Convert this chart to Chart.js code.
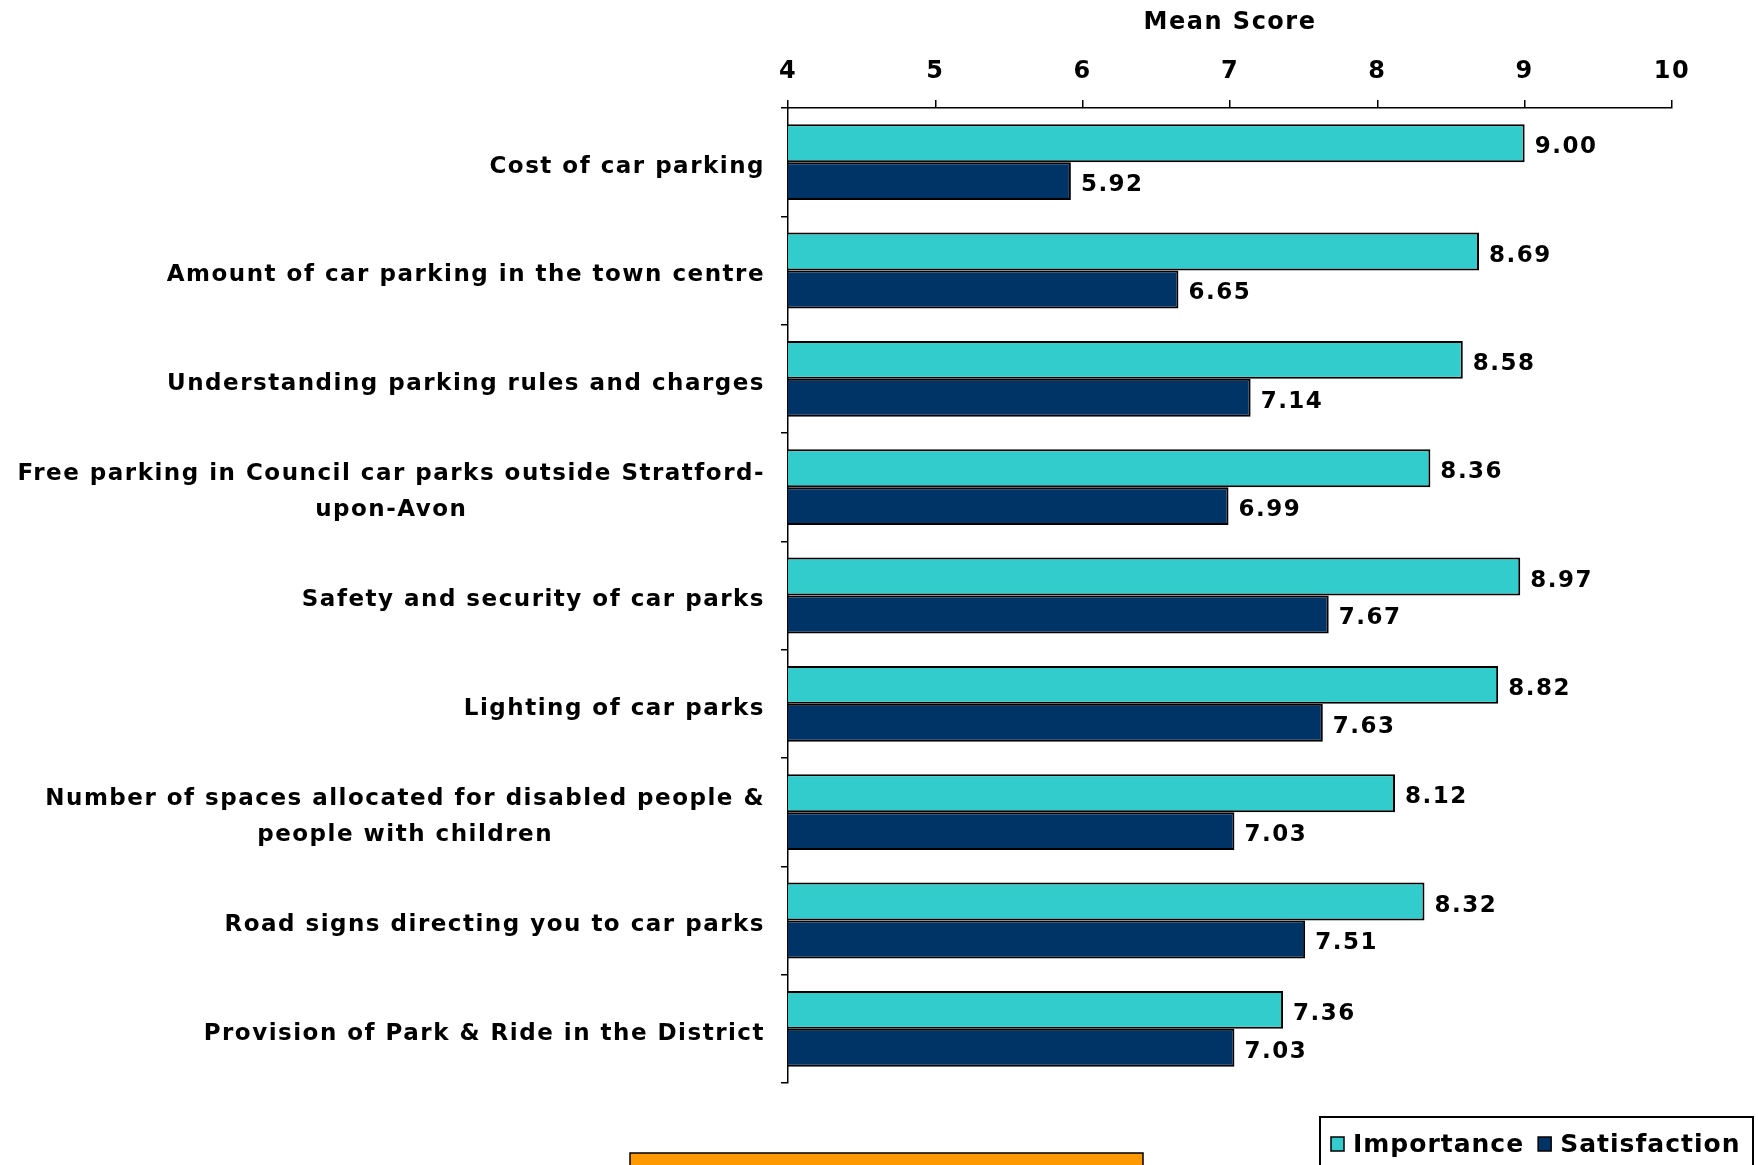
<!DOCTYPE html>
<html>
<head>
<meta charset="utf-8">
<script src="https://cdn.jsdelivr.net/npm/chart.js@4.4.1/dist/chart.umd.min.js"></script>
<style>
  html, body { margin:0; padding:0; background:#fff; }
  #wrap { width:1758px; height:1165px; }
</style>
</head>
<body>
<div id="wrap"><canvas id="meanChart" width="1758" height="1165"></canvas></div>
<script>
(function(){
  // categories, top to bottom
  const categories = [
    'Cost of car parking',
    'Amount of car parking in the town centre',
    'Understanding parking rules and charges',
    ['Free parking in Council car parks outside Stratford-', 'upon-Avon'],
    'Safety and security of car parks',
    'Lighting of car parks',
    ['Number of spaces allocated for disabled people &', 'people with children'],
    'Road signs directing you to car parks',
    'Provision of Park & Ride in the District'
  ];
  const importance   = [9.00, 8.69, 8.58, 8.36, 8.97, 8.82, 8.12, 8.32, 7.36];
  const satisfaction = [5.92, 6.65, 7.14, 6.99, 7.67, 7.63, 7.03, 7.51, 7.03];
  const xTicks = [4, 5, 6, 7, 8, 9, 10];

  const FONT = 'DejaVu Sans';
  const INK = '#000';
  const SPACING = '1.5px';

  // wider text like the original, canvas state is reset on resize so set it each draw
  const spacing = {
    id: 'spacing',
    beforeDraw(chart){ chart.ctx.letterSpacing = SPACING; }
  };

  // y labels: block right aligned, lines centred inside the block
  const yLabels = {
    id: 'yLabels',
    afterDraw(chart){
      const ctx = chart.ctx, s = chart.scales.y;
      ctx.save();
      ctx.letterSpacing = SPACING;
      ctx.font = 'bold 23px ' + FONT;
      ctx.fillStyle = INK;
      ctx.textAlign = 'center';
      ctx.textBaseline = 'middle';
      categories.forEach((c, i) => {
        const lines = [].concat(c);
        const w = Math.max(...lines.map(l => ctx.measureText(l).width));
        const cx = s.right - 23 - w / 2;
        const cy = s.getPixelForTick(i) + 5;
        lines.forEach((l, j) => ctx.fillText(l, cx, cy + (j - (lines.length - 1) / 2) * 36));
      });
      ctx.restore();
    }
  };

  const valueLabels = {
    id: 'valueLabels',
    afterDatasetsDraw(chart){
      const ctx = chart.ctx;
      ctx.save();
      ctx.letterSpacing = SPACING;
      ctx.font = 'bold 23px ' + FONT;
      ctx.fillStyle = INK;
      ctx.textAlign = 'left';
      ctx.textBaseline = 'middle';
      chart.data.datasets.forEach((ds, d) => {
        chart.getDatasetMeta(d).data.forEach((bar, i) => {
          ctx.fillText(ds.data[i].toFixed(2), bar.x + 10, bar.y + 4);
        });
      });
      ctx.restore();
    }
  };

  // boxed legend bottom right + orange strip
  const extras = {
    id: 'extras',
    afterDraw(chart){
      const ctx = chart.ctx;
      ctx.save();
      // orange box (cut off by the page edge)
      ctx.fillStyle = '#FF9900';
      ctx.fillRect(630, 1153, 513, 20);
      ctx.strokeStyle = INK; ctx.lineWidth = 1.5;
      ctx.strokeRect(630, 1153, 513, 20);

      // legend
      ctx.letterSpacing = '1px';
      ctx.lineWidth = 2;
      ctx.strokeRect(1320, 1117, 433, 60);
      ctx.font = 'bold 25px ' + FONT;
      ctx.textBaseline = 'middle';
      ctx.textAlign = 'left';
      let x = 1331;
      const cy = 1145;
      chart.data.datasets.forEach(ds => {
        ctx.fillStyle = ds.backgroundColor;
        ctx.fillRect(x, cy - 8, 13, 14);
        ctx.strokeStyle = INK; ctx.lineWidth = 1.5;
        ctx.strokeRect(x, cy - 8, 13, 14);
        ctx.fillStyle = INK;
        ctx.fillText(ds.label, x + 22, cy);
        x += 22 + ctx.measureText(ds.label).width + 14;
      });
      ctx.restore();
    }
  };

  new Chart(document.getElementById('meanChart'), {
    type: 'bar',
    data: {
      labels: categories,
      datasets: [
        { label: 'Importance', data: importance, backgroundColor: '#33CCCC',
          borderColor: INK, borderWidth: 2, borderSkipped: false },
        { label: 'Satisfaction', data: satisfaction, backgroundColor: '#003366',
          borderColor: INK, borderWidth: 2, borderSkipped: false }
      ]
    },
    options: {
      indexAxis: 'y',
      responsive: false,
      animation: false,
      datasets: { bar: { categoryPercentage: 0.7, barPercentage: 1.0 } },
      layout: { padding: { left: 0, right: 86, top: 0, bottom: 82 } },
      plugins: { legend: { display: false }, tooltip: { enabled: false } },
      scales: {
        x: {
          position: 'top',
          min: 4, max: 10,
          afterBuildTicks: s => { s.ticks = xTicks.map(v => ({ value: v })); },
          afterFit: s => { s.height = 108; },
          grid: { drawOnChartArea: false, tickLength: 8, color: INK, lineWidth: 1.5 },
          border: { color: INK, width: 1.5 },
          ticks: { color: INK, padding: 14, font: { family: FONT, size: 24, weight: 'bold' } },
          title: { display: true, text: 'Mean Score', color: INK, padding: { top: 8, bottom: 0 },
                   font: { family: FONT, size: 24, weight: 'bold' } }
        },
        y: {
          afterFit: s => { s.width = 788; },
          grid: { drawOnChartArea: false, tickLength: 7, color: INK, lineWidth: 1.5, offset: true },
          border: { color: INK, width: 1.5 },
          ticks: { display: false }
        }
      }
    },
    plugins: [spacing, yLabels, valueLabels, extras]
  });
})();
</script>
</body>
</html>
